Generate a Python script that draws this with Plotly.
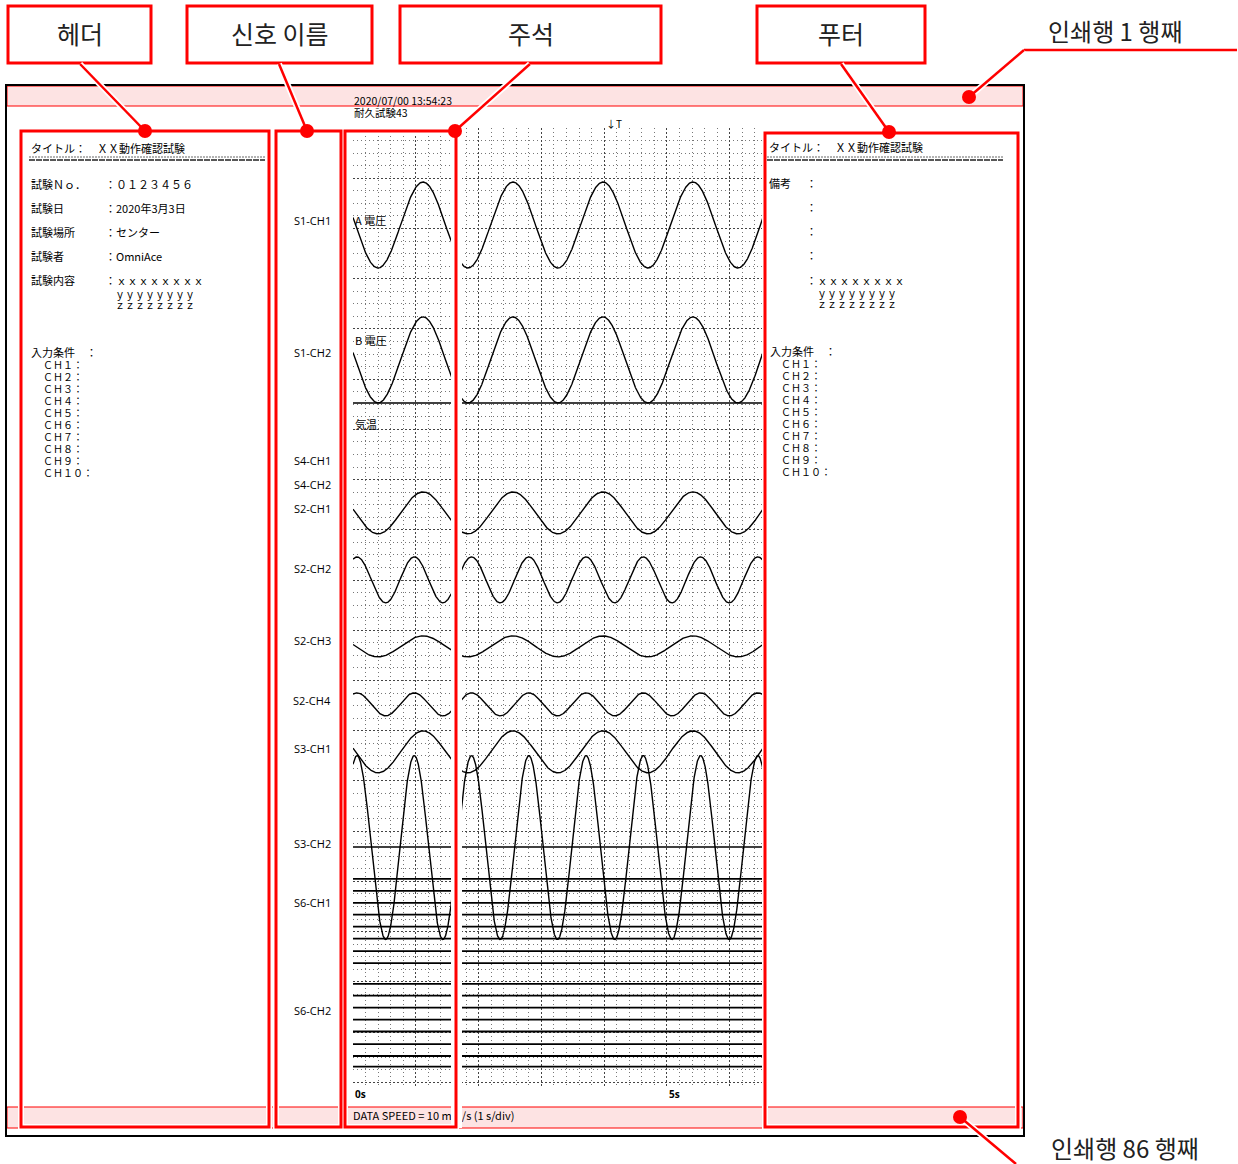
import numpy as np
import plotly.graph_objects as go

W, H = 1238, 1164

# ---------------- data ----------------
# chart recorder: time axis in seconds, vertical axis in mm (10 mm/s)
T_END = 6.53
Y_END = 152.9

wave_channels = ["S1-CH1", "S1-CH2", "S2-CH1", "S2-CH2", "S2-CH3", "S2-CH4", "S3-CH1", "S3-CH2"]
wave_period_s = [1.433, 1.433, 1.433, 0.912, 1.433, 0.912, 1.433, 0.912]
wave_first_peak_s = [1.115, 1.115, 1.115, 0.064, 1.115, 0.064, 1.115, 0.064]
wave_center_mm = [15.45, 36.94, 61.3, 71.97, 82.56, 91.8, 99.36, 114.6]
wave_amp_mm = [6.85, 6.85, 3.34, 3.66, 1.67, 1.83, 3.34, 14.65]

baseline_channels = ["S1-CH2", "S3-CH2"]
baseline_mm = [43.8, 114.5]

s6_ch1_levels_mm = [119.6, 121.5, 123.4, 125.3, 127.2, 129.1, 131.1, 133.0]
s6_ch2_levels_mm = [136.3, 138.2, 140.1, 142.0, 143.9, 145.9, 147.8, 149.5]

signal_names = ["S1-CH1", "S1-CH2", "S4-CH1", "S4-CH2", "S2-CH1", "S2-CH2",
                "S2-CH3", "S2-CH4", "S3-CH1", "S3-CH2", "S6-CH1", "S6-CH2"]
chart_notes = ["A 電圧", "B 電圧", "気温"]
time_labels = ["0s", "5s"]
time_label_values = [0, 5]

header_title = "タイトル：　ＸＸ動作確認試験"
header_keys = ["試験Ｎｏ．", "試験日", "試験場所", "試験者", "試験内容"]
header_vals = ["：０１２３４５６", "：2020年3月3日", "：センター", "：OmniAce", "：ｘｘｘｘｘｘｘｘ"]
header_more = ["ｙｙｙｙｙｙｙｙ", "ｚｚｚｚｚｚｚｚ"]
input_cond = "入力条件　："
ch_rows = ["ＣＨ１：", "ＣＨ２：", "ＣＨ３：", "ＣＨ４：", "ＣＨ５：",
           "ＣＨ６：", "ＣＨ７：", "ＣＨ８：", "ＣＨ９：", "ＣＨ１０："]
footer_note = "備考"
print_stamp = ["2020/07/00 13:54:23", "耐久試験43"]
data_speed = "DATA SPEED = 10 mm/s (1 s/div)"

callouts = ["헤더", "신호 이름", "주석", "푸터"]
line_notes = ["인쇄행 1 행째", "인쇄행 86 행째"]

# ---------------- layout geometry (pixels) ----------------
callout_boxes = [(8, 6, 151, 63), (187, 6, 372, 63), (400, 6, 661, 63), (757, 6, 925, 63)]
callout_lines = [((80, 64), (145, 131)), ((279, 64), (307, 131)),
                 ((530, 64), (455, 131)), ((841, 64), (889, 132))]
area_boxes = [(21, 131, 269, 1127), (276, 131, 341, 1127), (345, 131, 456, 1127), (765, 133, 1018, 1127)]
sig_label_y = [220, 352, 460, 484, 508, 568, 640, 700, 748, 843, 902, 1010]
note_y = [220, 340, 424]

JP = "Noto Sans CJK JP"
KR = "Noto Sans CJK KR"
RED = "#ff0000"

fig = go.Figure()

# dummy trace to create base pixel axes
fig.add_trace(go.Scatter(x=[0], y=[0], mode="markers", marker=dict(opacity=0),
                         showlegend=False, hoverinfo="skip"))

# footer speed text as trace (so the white halo strip can cover it)
fig.add_trace(go.Scatter(x=[353], y=[1117], mode="text", text=[data_speed],
                         textposition="middle right",
                         textfont=dict(family=JP, size=11, color="black"),
                         showlegend=False, hoverinfo="skip"))

t = np.linspace(0, T_END, 2400)
for name, per, pk, c, a in zip(wave_channels, wave_period_s, wave_first_peak_s, wave_center_mm, wave_amp_mm):
    y = c - a * np.cos(2 * np.pi * (t - pk) / per)
    fig.add_trace(go.Scatter(x=t, y=y, mode="lines", line=dict(color="black", width=1.4),
                             xaxis="x2", yaxis="y2", name=name, showlegend=False, hoverinfo="skip"))

for name, b in zip(baseline_channels, baseline_mm):
    fig.add_trace(go.Scatter(x=[0, T_END], y=[b, b], mode="lines", line=dict(color="black", width=1.5),
                             xaxis="x2", yaxis="y2", showlegend=False, hoverinfo="skip"))

for lv in s6_ch1_levels_mm + s6_ch2_levels_mm:
    fig.add_trace(go.Scatter(x=[0, T_END], y=[lv, lv], mode="lines", line=dict(color="black", width=1.8),
                             xaxis="x2", yaxis="y2", showlegend=False, hoverinfo="skip"))

shapes = []
annotations = []


def rect(x0, y0, x1, y1, line_color, width, fill="rgba(0,0,0,0)", layer="above"):
    shapes.append(dict(type="rect", xref="x", yref="y", x0=x0, y0=y0, x1=x1, y1=y1,
                       line=dict(color=line_color, width=width), fillcolor=fill, layer=layer))


def seg(p0, p1, color, width, layer="above", dash="solid"):
    shapes.append(dict(type="line", xref="x", yref="y", x0=p0[0], y0=p0[1], x1=p1[0], y1=p1[1],
                       line=dict(color=color, width=width, dash=dash), layer=layer))


def dot(x, y, r=7):
    shapes.append(dict(type="circle", xref="x", yref="y", x0=x - r, y0=y - r, x1=x + r, y1=y + r,
                       line=dict(color=RED, width=0), fillcolor=RED, layer="above"))


def text(x, y, s, size=11, family=JP, anchor="left", color="black"):
    annotations.append(dict(x=x, y=y, xref="x", yref="y", text=s, showarrow=False,
                            xanchor=anchor, yanchor="middle",
                            font=dict(family=family, size=size, color=color)))


# pink print-line bands
rect(7, 86, 1023, 106, RED, 1, fill="#fde3e3", layer="below")
rect(7, 1107, 1023, 1128, RED, 1, fill="#fde3e3", layer="below")
# page frame
rect(6, 85, 1024, 1136, "black", 2, layer="below")

# white strip behind annotation box right edge
rect(451, 128, 462, 1128, "white", 0, fill="white")

# area boxes with white halo
for (x0, y0, x1, y1) in area_boxes:
    rect(x0, y0, x1, y1, "white", 6)
for (x0, y0, x1, y1) in area_boxes:
    rect(x0, y0, x1, y1, RED, 3)

# callout boxes
for (x0, y0, x1, y1), s in zip(callout_boxes, callouts):
    rect(x0, y0, x1, y1, RED, 3, fill="white")
    text((x0 + x1) / 2, 33, s, size=25, family=KR, anchor="center", color="#222")

# callout connectors
for p0, p1 in callout_lines:
    seg(p0, p1, "white", 6)
    seg(p0, p1, RED, 2.5)
    dot(p1[0], p1[1])

# print-line notes
for pts in [((1237, 50), (1024, 50)), ((1024, 50), (969, 97)), ((960, 1117), (1016, 1164))]:
    seg(pts[0], pts[1], "white", 6)
    seg(pts[0], pts[1], RED, 2.5)
dot(969, 97)
dot(960, 1117)
text(1115, 30, line_notes[0], size=24, family=KR, anchor="center", color="#222")
text(1125, 1147, line_notes[1], size=24, family=KR, anchor="center", color="#222")

# ---- header area ----
text(29, 148, header_title)
seg((29, 157), (265, 157), "#666", 1, dash="2px,1px")
seg((29, 160), (265, 160), "#222", 1.5, dash="6px,1px")
for i, (k, v) in enumerate(zip(header_keys, header_vals)):
    yy = 184 + 24 * i
    text(29, yy, k)
    text(103, yy, v)
for i, s in enumerate(header_more):
    text(113, 293 + 11.5 * i, s, size=10)
text(29, 352, input_cond)
for i, s in enumerate(ch_rows):
    text(41, 364 + 12 * i, s, size=10)

# ---- footer area ----
text(767, 147, header_title)
seg((767, 157), (1003, 157), "#666", 1, dash="2px,1px")
seg((767, 160), (1003, 160), "#222", 1.5, dash="6px,1px")
text(767, 183, footer_note)
for i in range(4):
    text(804, 183 + 24 * i, "：")
text(804, 280, "：ｘｘｘｘｘｘｘｘ")
for i, s in enumerate(header_more):
    text(815, 292 + 11.5 * i, s, size=10)
text(768, 351, input_cond)
for i, s in enumerate(ch_rows):
    text(779, 363 + 12 * i, s, size=10)

# ---- signal names ----
for s, yy in zip(signal_names, sig_label_y):
    text(312, yy, s, size=11, family="Open Sans", anchor="center")

# ---- chart notes ----
for s, yy in zip(chart_notes, note_y):
    text(353, yy, s, size=11)

# ---- print stamp / trigger ----
text(352, 100, print_stamp[0], size=10.5)
text(352, 112, print_stamp[1], size=10.5)
text(604, 123, "↓T", size=10)

# ---- time labels ----
for s, v in zip(time_labels, time_label_values):
    annotations.append(dict(x=v, y=1094, xref="x2", yref="y", text="<b>" + s + "</b>", showarrow=False,
                            xanchor="left", yanchor="middle", font=dict(family="Open Sans", size=10, color="black")))

fig.update_layout(
    width=W, height=H, margin=dict(l=0, r=0, t=0, b=0),
    paper_bgcolor="white", plot_bgcolor="rgba(0,0,0,0)", showlegend=False,
    xaxis=dict(range=[0, W], domain=[0, 1], visible=False),
    yaxis=dict(range=[H, 0], domain=[0, 1], visible=False),
    xaxis2=dict(domain=[353 / W, 763 / W], range=[0, T_END], anchor="y2",
                showticklabels=False, ticks="", zeroline=False,
                showgrid=True, dtick=1, tick0=0, gridcolor="#444", griddash="2px,2px", gridwidth=1,
                minor=dict(dtick=0.2, tick0=0, showgrid=True, gridcolor="#777", griddash="1px,3px", gridwidth=1)),
    yaxis2=dict(domain=[1 - 1088 / H, 1 - 128 / H], range=[Y_END, 0], anchor="x2",
                showticklabels=False, ticks="", zeroline=False,
                showgrid=True, dtick=8, tick0=0, gridcolor="#444", griddash="2px,2px", gridwidth=1,
                minor=dict(dtick=2, tick0=0, showgrid=True, gridcolor="#777", griddash="1px,3px", gridwidth=1)),
    shapes=shapes, annotations=annotations,
)

fig.write_html("out.html", config={"displayModeBar": False},
               post_script="document.body.style.margin='0';document.body.style.padding='0';")
